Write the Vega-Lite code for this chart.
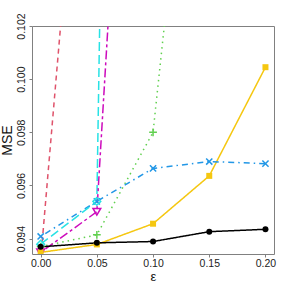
{
  "$schema": "https://vega.github.io/schema/vega-lite/v6.json",
  "autosize": "none",
  "width": 242,
  "height": 228,
  "padding": {"left": 32, "top": 26, "right": 14, "bottom": 34},
  "background": "white",
  "config": {
    "view": {"stroke": "#808080", "strokeWidth": 1},
    "font": "Liberation Sans",
    "axis": {"grid": false, "domain": false, "tickColor": "#808080", "tickSize": 3, "labelFont": "Liberation Sans", "labelFontSize": 10.5, "labelColor": "#222", "titleFont": "Liberation Sans", "titleFontWeight": "normal", "titleColor": "#111"}
  },
  "data": {"values": [
    {"s": "s7", "eps": 0.00, "mse": 0.09348},
    {"s": "s7", "eps": 0.05, "mse": 0.09378},
    {"s": "s7", "eps": 0.10, "mse": 0.09456},
    {"s": "s7", "eps": 0.15, "mse": 0.09636},
    {"s": "s7", "eps": 0.20, "mse": 0.10045},
    {"s": "s2", "eps": 0.00, "mse": 0.0932},
    {"s": "s2", "eps": 0.05, "mse": 0.118},
    {"s": "s3", "eps": 0.00, "mse": 0.0937},
    {"s": "s3", "eps": 0.05, "mse": 0.09414},
    {"s": "s3", "eps": 0.10, "mse": 0.0980},
    {"s": "s3", "eps": 0.15, "mse": 0.118},
    {"s": "s4", "eps": 0.00, "mse": 0.09408},
    {"s": "s4", "eps": 0.05, "mse": 0.0954},
    {"s": "s4", "eps": 0.10, "mse": 0.09664},
    {"s": "s4", "eps": 0.15, "mse": 0.0969},
    {"s": "s4", "eps": 0.20, "mse": 0.09682},
    {"s": "s5", "eps": 0.00, "mse": 0.09379},
    {"s": "s5", "eps": 0.05, "mse": 0.0954},
    {"s": "s5", "eps": 0.10, "mse": 0.2274},
    {"s": "s6", "eps": 0.00, "mse": 0.09348},
    {"s": "s6", "eps": 0.05, "mse": 0.09501},
    {"s": "s6", "eps": 0.10, "mse": 0.1304},
    {"s": "s1", "eps": 0.00, "mse": 0.09369},
    {"s": "s1", "eps": 0.05, "mse": 0.09384},
    {"s": "s1", "eps": 0.10, "mse": 0.09389},
    {"s": "s1", "eps": 0.15, "mse": 0.09426},
    {"s": "s1", "eps": 0.20, "mse": 0.09435}
  ]},
  "encoding": {
    "x": {"field": "eps", "type": "quantitative", "scale": {"domain": [-0.0077, 0.2076], "nice": false, "zero": false},
      "axis": {"values": [0, 0.05, 0.1, 0.15, 0.2], "format": ".2f", "title": "ε", "titleFontSize": 13, "labelPadding": 1, "titlePadding": 2}},
    "y": {"field": "mse", "type": "quantitative", "scale": {"domain": [0.09342, 0.102], "nice": false, "zero": false},
      "axis": {"values": [0.094, 0.096, 0.098, 0.1, 0.102], "format": ".3f", "title": "MSE", "titleFontSize": 14, "labelAngle": 270, "labelAlign": "center", "labelBaseline": "bottom", "labelPadding": 3, "titlePadding": 2}},
    "color": {"field": "s", "type": "nominal", "legend": null,
      "scale": {"domain": ["s1", "s2", "s3", "s4", "s5", "s6", "s7"], "range": ["#000000", "#DF536B", "#61D04F", "#2297E6", "#28E2E5", "#CD0BBC", "#F5C710"]}}
  },
  "layer": [
    {"mark": {"type": "line", "clip": true, "strokeWidth": 1.5},
     "encoding": {"strokeDash": {"field": "s", "type": "nominal", "legend": null,
       "scale": {"domain": ["s1", "s2", "s3", "s4", "s5", "s6", "s7"], "range": [[1, 0], [5, 4], [1.5, 4], [1.5, 4, 6, 4], [9, 4], [3, 3, 9, 3], [1, 0]]}}}},
    {"transform": [{"filter": "datum.s != 's1' && datum.s != 's7'"}],
     "mark": {"type": "point", "clip": true, "filled": false, "opacity": 1, "strokeWidth": 1.5, "size": 60},
     "encoding": {"shape": {"field": "s", "type": "nominal", "legend": null, "scale": {"domain": ["s2", "s3", "s4", "s5", "s6"], "range": ["triangle-up", "M-1,0L1,0M0,-1L0,1", "M-0.8,-0.8L0.8,0.8M-0.8,0.8L0.8,-0.8", "diamond", "triangle-down"]}}}},
    {"transform": [{"filter": "datum.s == 's1' || datum.s == 's7'"}],
     "mark": {"type": "point", "clip": true, "filled": true, "opacity": 1, "size": 36},
     "encoding": {"shape": {"field": "s", "type": "nominal", "legend": null, "scale": {"domain": ["s1", "s7"], "range": ["circle", "square"]}}}}
  ],
  "resolve": {"scale": {"shape": "independent"}}
}
